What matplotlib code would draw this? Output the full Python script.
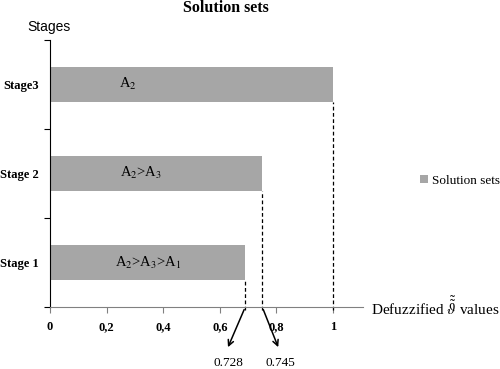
import numpy as np
import matplotlib
matplotlib.use("Agg")
import matplotlib.pyplot as plt

# data
stages = ["Stage 1", "Stage 2", "Stage3"]
values = [0.69, 0.75, 1.0]
bar_texts = ["A$_2$>A$_3$>A$_1$", "A$_2$>A$_3$", "A$_2$"]
marked_values = ["0.728", "0.745"]
x_ticks = [0, 0.2, 0.4, 0.6, 0.8, 1]
x_tick_labels = ["0", "0,2", "0,4", "0,6", "0,8", "1"]

plt.rcParams['mathtext.fontset'] = 'stix'
serif = 'Liberation Serif'
bar_color = '#a6a6a6'
axis_color = '#808080'

fig = plt.figure(figsize=(5, 3.69), dpi=100)
ax = fig.add_axes([0.1, 0.168, 0.626, 0.724])

ypos = np.arange(len(stages))
ax.barh(ypos, values, height=0.4, color=bar_color, label='Solution sets')

# text inside bars
text_x = [0.346, 0.32, 0.276]
for y, tx, t in zip(ypos, text_x, bar_texts):
    ax.text(tx, y, t, ha='center', va='center', fontsize=10.5, family=serif)

# dashed drop lines
for y, v in zip(ypos, values):
    ax.plot([v, v], [-0.53, y - 0.2], ls=(0, (3, 2)), color='black', lw=0.9,
            clip_on=False)

ax.set_xlim(0, 1.106)
ax.set_ylim(-0.5, 2.5)

for s in ['top', 'right']:
    ax.spines[s].set_visible(False)
ax.spines['left'].set_color('black')
ax.spines['bottom'].set_color(axis_color)

ax.set_xticks(x_ticks)
ax.set_xticklabels(x_tick_labels, fontsize=9, family=serif, fontweight='bold')
ax.tick_params(axis='x', direction='out', length=4, color=axis_color, pad=6)

ax.set_yticks([-0.5, 0.5, 1.5, 2.5])
ax.set_yticklabels([])
ax.set_yticks(ypos, minor=True)
ax.set_yticklabels(stages, minor=True, fontsize=9, family=serif, fontweight='bold')
ax.tick_params(axis='y', which='major', direction='out', length=4)
ax.tick_params(axis='y', which='minor', length=0, pad=8)

# arrows down to the marked values
arrow_dx = [-0.065, 0.06]
for v, dx, lab in zip(values[:2], arrow_dx, marked_values):
    ax.annotate('', xy=(v + dx, -0.98), xytext=(v, -0.5),
                arrowprops=dict(arrowstyle='->', color='black', lw=1.1),
                annotation_clip=False)
    ax.text(v + dx + 0.005, -1.13, lab, ha='center', va='center', fontsize=9.5,
            family=serif, clip_on=False)

ax.text(1.135, -0.5, r"Defuzzified $\tilde{\tilde{\vartheta}}$ values",
        ha='left', va='center', fontsize=11, family=serif, clip_on=False)

fig.text(0.452, 0.978, 'Solution sets', ha='center', va='center', fontsize=11.5,
         family=serif, fontweight='bold')
fig.text(0.098, 0.927, 'Stages', ha='center', va='center', fontsize=10,
         family='Liberation Sans')

ax.legend(loc='center left', bbox_to_anchor=(0.84, 0.51), bbox_transform=fig.transFigure,
          frameon=False, prop={'family': serif, 'size': 9.5}, handlelength=0.6,
          handleheight=0.6, handletextpad=0.3, borderpad=0, borderaxespad=0)

fig.savefig('out.png', dpi=100)
